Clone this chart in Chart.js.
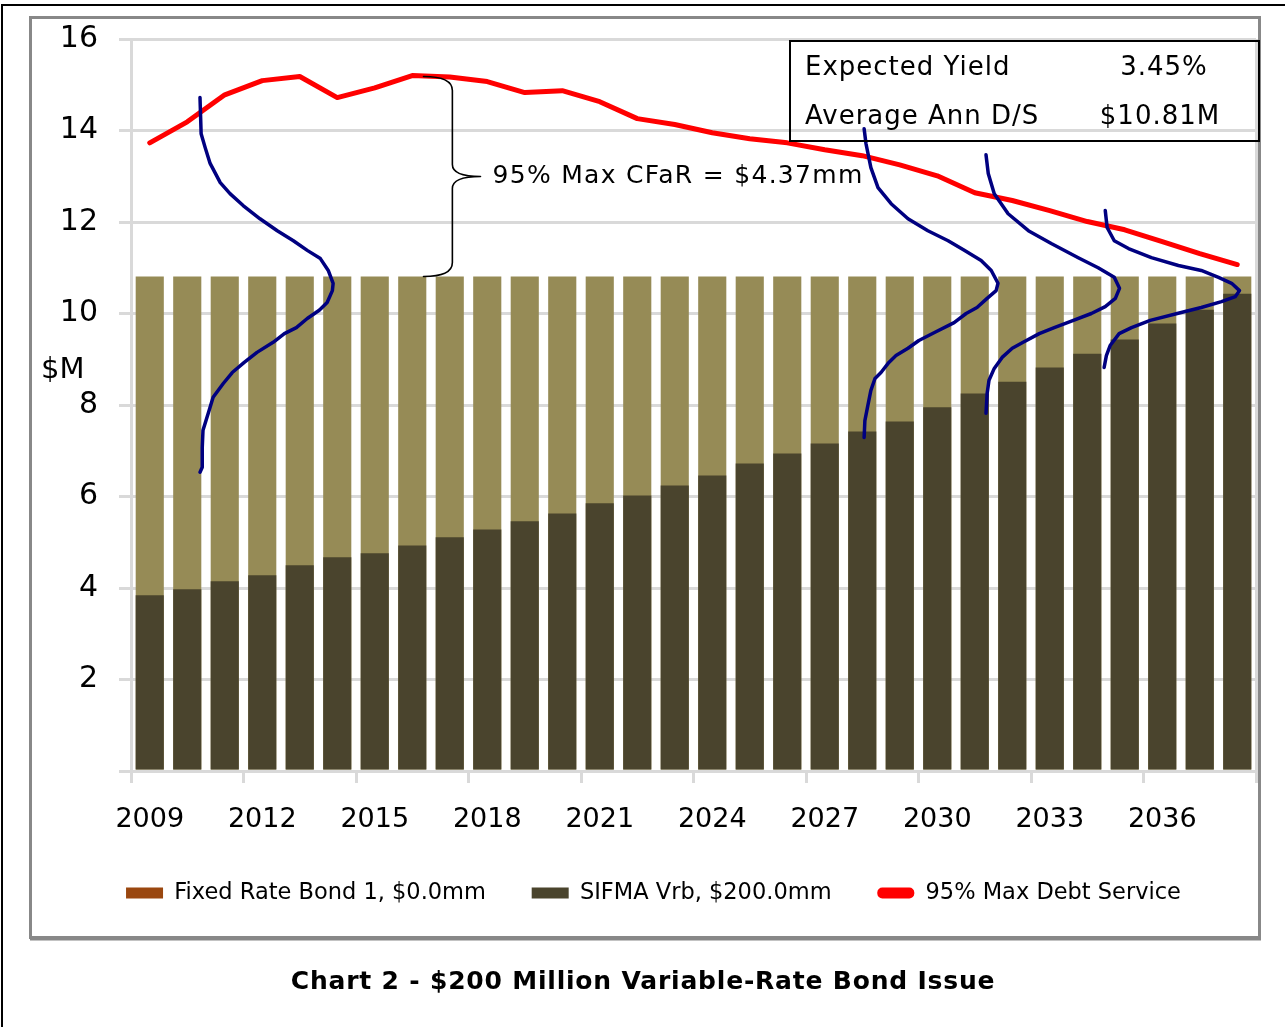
<!DOCTYPE html>
<html>
<head>
<meta charset="utf-8">
<script src="https://cdn.jsdelivr.net/npm/chart.js@4.4.1/dist/chart.umd.min.js"></script>
<style>
  html, body { margin: 0; padding: 0; background: #fff; }
  #c { display: block; }
</style>
</head>
<body>
<canvas id="c" width="1285" height="1027"></canvas>
<script>
// ---------------- DATA ----------------
const years = ['2009','2010','2011','2012','2013','2014','2015','2016','2017','2018',
               '2019','2020','2021','2022','2023','2024','2025','2026','2027','2028',
               '2029','2030','2031','2032','2033','2034','2035','2036','2037','2038'];
const fixedRateBond = [0,0,0,0,0,0,0,0,0,0, 0,0,0,0,0,0,0,0,0,0, 0,0,0,0,0,0,0,0,0,0];
const sifmaVrb = [3.84,3.97,4.15,4.28,4.50,4.67,4.76,4.93,5.11,5.28,
                  5.46,5.63,5.85,6.02,6.24,6.46,6.72,6.94,7.16,7.42,
                  7.64,7.95,8.25,8.51,8.82,9.12,9.43,9.78,10.08,10.43];
const avgAnnualDS = [10.81,10.81,10.81,10.81,10.81,10.81,10.81,10.81,10.81,10.81,
                     10.81,10.81,10.81,10.81,10.81,10.81,10.81,10.81,10.81,10.81,
                     10.81,10.81,10.81,10.81,10.81,10.81,10.81,10.81,10.81,10.81];
const maxDebtService95 = [13.73,14.19,14.78,15.09,15.18,14.72,14.93,15.20,15.17,15.07,
                          14.83,14.87,14.63,14.26,14.13,13.95,13.82,13.73,13.58,13.45,
                          13.25,13.01,12.64,12.47,12.25,12.01,11.83,11.57,11.31,11.07];
const yTicksMax = 16;
const yTickStep = 2;
const seriesLabels = ['Fixed Rate Bond 1, $0.0mm', 'SIFMA Vrb, $200.0mm', '95% Max Debt Service', 'Average Annual D/S'];
const statLabels = ['Expected Yield', 'Average Ann D/S'];
const statValues = ['3.45%', '$10.81M'];
const cfarText = '95% Max CFaR = $4.37mm';
const cfarTop = 15.18, cfarBottom = 10.81;
const chartTitle = 'Chart 2 - $200 Million Variable-Rate Bond Issue';
const yUnit = '$M';

// hand-drawn distribution curves: [category index, $M]
const curve1 = [[1.34,14.72],[1.37,13.93],[1.48,13.62],[1.61,13.28],[1.88,12.86],[2.14,12.62],[2.49,12.36],[2.94,12.07],[3.40,11.81],[3.83,11.59],[4.20,11.38],[4.55,11.20],[4.76,10.94],[4.89,10.66],[4.87,10.50],[4.73,10.24],[4.52,10.07],[4.20,9.89],[3.91,9.69],[3.59,9.56],[3.29,9.37],[2.86,9.15],[2.52,8.93],[2.20,8.71],[1.96,8.47],[1.69,8.17],[1.56,7.82],[1.42,7.45],[1.40,7.07],[1.40,6.64],[1.34,6.53]];
const curve2 = [[19.05,14.04],[19.10,13.71],[19.23,13.19],[19.42,12.75],[19.77,12.40],[20.22,12.07],[20.75,11.81],[21.29,11.59],[21.72,11.38],[22.17,11.16],[22.44,10.94],[22.62,10.66],[22.57,10.50],[22.33,10.33],[22.06,10.13],[21.77,10.00],[21.45,9.80],[20.94,9.59],[20.51,9.41],[20.22,9.24],[19.90,9.08],[19.71,8.93],[19.50,8.71],[19.34,8.58],[19.23,8.32],[19.15,7.99],[19.07,7.66],[19.05,7.29]];
const curve3 = [[22.30,13.47],[22.36,13.06],[22.52,12.62],[22.89,12.18],[23.43,11.81],[24.04,11.53],[24.76,11.22],[25.29,11.00],[25.72,10.79],[25.86,10.55],[25.75,10.33],[25.48,10.15],[25.11,10.00],[24.63,9.85],[24.12,9.69],[23.72,9.56],[23.29,9.37],[23.00,9.24],[22.73,9.04],[22.52,8.80],[22.38,8.54],[22.33,8.25],[22.30,7.82]];
const curve4 = [[25.48,12.25],[25.53,11.88],[25.72,11.59],[26.10,11.42],[26.71,11.22],[27.43,11.05],[28.04,10.94],[28.50,10.79],[28.85,10.66],[29.06,10.50],[28.95,10.37],[28.58,10.26],[28.04,10.13],[27.40,10.00],[26.68,9.85],[26.18,9.69],[25.85,9.56],[25.61,9.30],[25.51,9.08],[25.45,8.82]];
const curves = [curve1, curve2, curve3, curve4];

// ---------------- STYLE ----------------
const FONT = 'DejaVu Sans';
const GRID = '#d9d9d9';
Chart.defaults.font.family = FONT;
Chart.defaults.color = '#000';

const annotations = {
  id: 'annotations',
  beforeDraw(chart) {
    const c = chart.ctx;
    c.save();
    c.fillStyle = '#fff';
    c.fillRect(0, 0, chart.width, chart.height);
    c.restore();
  },
  afterDatasetsDraw(chart) {
    const c = chart.ctx, xs = chart.scales.x, ys = chart.scales.y;
    c.save();
    // blue curves
    c.strokeStyle = '#000080';
    c.lineWidth = 3.5;
    c.lineJoin = 'round';
    c.lineCap = 'round';
    curves.forEach(pts => {
      c.beginPath();
      pts.forEach((p, i) => {
        const px = xs.getPixelForValue(p[0]), py = ys.getPixelForValue(p[1]);
        if (i === 0) c.moveTo(px, py); else c.lineTo(px, py);
      });
      c.stroke();
    });
    // brace
    const xL = xs.getPixelForValue(7.30), xS = xs.getPixelForValue(8.07), xT = xs.getPixelForValue(8.82);
    const yT = ys.getPixelForValue(cfarTop), yB = ys.getPixelForValue(cfarBottom), yM = (yT + yB) / 2;
    c.strokeStyle = '#000';
    c.lineWidth = 1.6;
    c.beginPath();
    c.moveTo(xL, yT);
    c.quadraticCurveTo(xS, yT, xS, yT + 14);
    c.lineTo(xS, yM - 12);
    c.quadraticCurveTo(xS, yM, xT, yM);
    c.quadraticCurveTo(xS, yM, xS, yM + 12);
    c.lineTo(xS, yB - 14);
    c.quadraticCurveTo(xS, yB, xL, yB);
    c.stroke();
    // CFaR text
    c.fillStyle = '#000';
    c.font = '25px "' + FONT + '"';
    c.letterSpacing = '1.3px';
    c.textAlign = 'left';
    c.textBaseline = 'middle';
    c.fillText(cfarText, xT + 12, yM);
    c.restore();
  },
  afterDraw(chart) {
    const c = chart.ctx;
    c.save();
    // outer black border (top and left)
    c.strokeStyle = '#000';
    c.lineWidth = 2;
    c.beginPath();
    c.moveTo(2, 1027); c.lineTo(2, 5); c.lineTo(1285, 5);
    c.stroke();
    // gray chart frame
    c.strokeStyle = '#888';
    c.lineWidth = 3;
    c.strokeRect(30.5, 17.5, 1229, 920);
    c.lineWidth = 2;
    c.beginPath(); c.moveTo(30, 939.5); c.lineTo(1261, 939.5); c.stroke();
    // stats box
    c.strokeStyle = '#000';
    c.lineWidth = 2;
    c.strokeRect(790, 41, 469, 100);
    c.fillStyle = '#000';
    c.font = '26px "' + FONT + '"';
    c.letterSpacing = '1px';
    c.textBaseline = 'middle';
    c.textAlign = 'left';
    c.fillText(statLabels[0], 805, 68);
    c.fillText(statLabels[1], 805, 117);
    c.textAlign = 'center';
    c.fillText(statValues[0], 1164, 68);
    c.fillText(statValues[1], 1160, 117);
    // y unit
    c.textAlign = 'left';
    c.font = '29px "' + FONT + '"';
    c.letterSpacing = '0px';
    c.fillText(yUnit, 41, 370);
    // title
    c.textAlign = 'center';
    c.font = 'bold 25px "' + FONT + '"';
    c.letterSpacing = '0.8px';
    c.fillText(chartTitle, 643, 982);
    c.restore();
  }
};

new Chart(document.getElementById('c'), {
  data: {
    labels: years,
    datasets: [
      { type: 'bar', label: seriesLabels[0], data: fixedRateBond, backgroundColor: '#9a470f',
        grouped: false, order: 3, barPercentage: 0.75, categoryPercentage: 1 },
      { type: 'bar', label: seriesLabels[1], data: sifmaVrb, backgroundColor: '#4a442d',
        grouped: false, order: 1, barPercentage: 0.75, categoryPercentage: 1 },
      { type: 'line', label: seriesLabels[2], data: maxDebtService95, borderColor: '#ff0000',
        backgroundColor: '#ff0000', borderWidth: 5, pointRadius: 0, tension: 0,
        borderJoinStyle: 'round', borderCapStyle: 'round', order: 0 },
      { type: 'bar', label: seriesLabels[3], data: avgAnnualDS, backgroundColor: '#968b56',
        grouped: false, order: 2, barPercentage: 0.75, categoryPercentage: 1 }
    ]
  },
  options: {
    responsive: false,
    devicePixelRatio: 1,
    animation: false,
    layout: { padding: { left: 22, top: 38, right: 0, bottom: 112.75 } },
    scales: {
      x: {
        offset: true,
        grid: {
          offset: true,
          lineWidth: 3,
          tickLength: 12,
          color: (ctx) => (ctx.index === 0 || ctx.index === undefined) ? GRID : 'rgba(0,0,0,0)',
          tickColor: (ctx) => (ctx.index === undefined || ctx.index % 3 === 0) ? GRID : 'rgba(0,0,0,0)'
        },
        border: { display: true, color: GRID, width: 3 },
        ticks: {
          autoSkip: false, maxRotation: 0, minRotation: 0, padding: 21,
          font: { size: 27 }, color: '#000',
          callback: (v, i) => (i % 3 === 0 ? years[i] : '')
        },
        afterFit: (s) => { s.height = 65; }
      },
      y: {
        min: 0, max: yTicksMax,
        grid: { color: GRID, lineWidth: 3, tickLength: 12 },
        border: { display: true, color: GRID, width: 3 },
        ticks: {
          stepSize: yTickStep, padding: 21, font: { size: 30 }, color: '#000',
          callback: (v) => (v === 0 ? '' : String(v))
        },
        afterFit: (s) => { s.width = 109; }
      },
      y2: {
        type: 'linear', position: 'right', display: true,
        grid: { display: false }, border: { display: false }, ticks: { display: false },
        afterFit: (s) => { s.width = 29; }
      }
    },
    plugins: {
      tooltip: { enabled: false },
      title: { display: false },
      legend: {
        position: 'bottom',
        labels: {
          boxWidth: 37, boxHeight: 11, padding: 45.75, color: '#000',
          font: { size: 22.5 },
          useBorderRadius: true,
          generateLabels: (chart) => {
            const items = Chart.defaults.plugins.legend.labels.generateLabels(chart);
            items.forEach(it => {
              if (it.datasetIndex === 2) { it.lineWidth = 0; it.borderRadius = 5; }
              else { it.borderRadius = 0; }
            });
            return items;
          },
          filter: (item) => item.datasetIndex !== 3,
          sort: (a, b) => a.datasetIndex - b.datasetIndex
        }
      }
    }
  },
  plugins: [annotations]
});
</script>
</body>
</html>
